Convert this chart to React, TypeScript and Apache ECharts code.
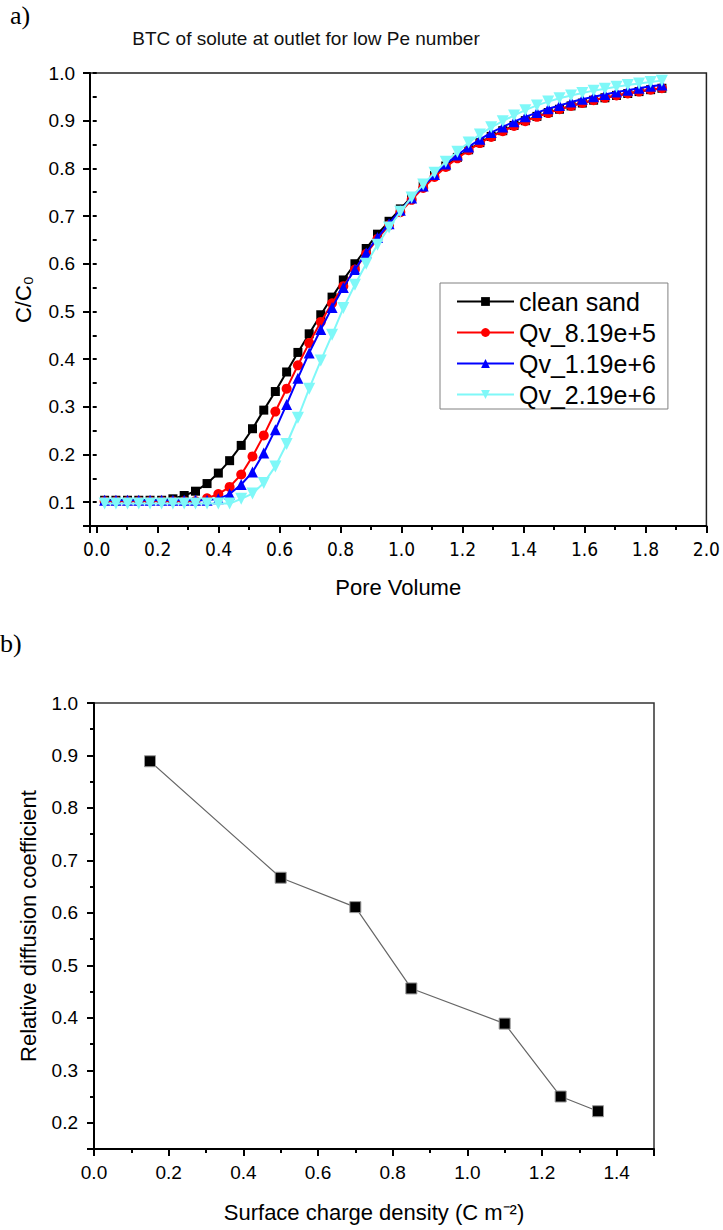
import React, { useEffect, useRef } from "react";
import * as echarts from "echarts";

// ---- Data: panel a (breakthrough curves) ----
const poreVolume = [
  0.026, 0.063, 0.101, 0.138, 0.175, 0.213, 0.25, 0.287, 0.324, 0.362,
  0.399, 0.436, 0.474, 0.511, 0.548, 0.586, 0.623, 0.66, 0.697, 0.735,
  0.772, 0.809, 0.847, 0.884, 0.921, 0.959, 0.996, 1.033, 1.071, 1.108,
  1.145, 1.183, 1.22, 1.257, 1.294, 1.332, 1.369, 1.406, 1.444, 1.481,
  1.518, 1.556, 1.593, 1.63, 1.667, 1.705, 1.742, 1.779, 1.817, 1.854,
];
const cleanSand = [
  0.104, 0.104, 0.104, 0.104, 0.104, 0.104, 0.107, 0.114, 0.123, 0.139,
  0.161, 0.187, 0.219, 0.254, 0.293, 0.332, 0.373, 0.414, 0.453, 0.493,
  0.53, 0.566, 0.6, 0.632, 0.662, 0.689, 0.715, 0.74, 0.763, 0.785,
  0.805, 0.823, 0.839, 0.854, 0.867, 0.879, 0.89, 0.9, 0.909, 0.917,
  0.924, 0.931, 0.937, 0.943, 0.948, 0.953, 0.957, 0.961, 0.965, 0.968,
];
const qv819e5 = [
  0.102, 0.102, 0.102, 0.102, 0.102, 0.102, 0.102, 0.102, 0.102, 0.108,
  0.117, 0.132, 0.158, 0.196, 0.24, 0.29, 0.338, 0.387, 0.434, 0.478,
  0.517, 0.553, 0.588, 0.621, 0.652, 0.681, 0.708, 0.734, 0.759, 0.782,
  0.803, 0.821, 0.838, 0.853, 0.866, 0.878, 0.889, 0.899, 0.908, 0.916,
  0.924, 0.931, 0.937, 0.943, 0.948, 0.953, 0.957, 0.961, 0.965, 0.968,
];
const qv119e6 = [
  0.104, 0.104, 0.104, 0.104, 0.104, 0.104, 0.104, 0.104, 0.104, 0.104,
  0.107, 0.117, 0.137, 0.163, 0.203, 0.252, 0.305, 0.36, 0.413, 0.462,
  0.508, 0.55, 0.588, 0.623, 0.655, 0.684, 0.712, 0.738, 0.763, 0.787,
  0.809, 0.828, 0.845, 0.861, 0.875, 0.887, 0.898, 0.908, 0.917, 0.925,
  0.932, 0.939, 0.945, 0.95, 0.955, 0.96, 0.964, 0.968, 0.972, 0.975,
];
const qv219e6 = [
  0.097, 0.097, 0.097, 0.097, 0.097, 0.097, 0.097, 0.097, 0.097, 0.097,
  0.097, 0.097, 0.107, 0.118, 0.14, 0.175, 0.222, 0.277, 0.338, 0.397,
  0.451, 0.507, 0.556, 0.6, 0.64, 0.676, 0.709, 0.739, 0.766, 0.791,
  0.814, 0.835, 0.854, 0.871, 0.886, 0.899, 0.911, 0.922, 0.932, 0.94,
  0.947, 0.953, 0.958, 0.963, 0.967, 0.971, 0.975, 0.978, 0.981, 0.984,
];
const seriesNames = ["clean sand", "Qv_8.19e+5", "Qv_1.19e+6", "Qv_2.19e+6"];

// ---- Data: panel b ----
const chargeDensity = [0.15, 0.5, 0.7, 0.85, 1.1, 1.25, 1.35];
const relDiffusion = [0.889, 0.667, 0.611, 0.456, 0.389, 0.25, 0.222];

const SANS = '"Liberation Sans", Arial, Helvetica, sans-serif';
const SERIF = '"Liberation Serif", "Times New Roman", serif';

function pairs(xs: number[], ys: number[]) {
  return xs.map((x, i) => [x, ys[i]]);
}

const isMult = (v: number, step: number) =>
  Math.abs(v / step - Math.round(v / step)) < 1e-6;

export default function App() {
  const ref = useRef<HTMLDivElement>(null);

  useEffect(() => {
    if (!ref.current) return;
    const chart = echarts.init(ref.current, undefined, { renderer: "svg" });

    const majorTick = { show: true, inside: false, length: 7, lineStyle: { color: "#000", width: 2 } };
    const minorTick = { show: true, inside: false, length: 4, lineStyle: { color: "#000", width: 2 } };
    const axisLine = { show: true, onZero: false, lineStyle: { color: "#000", width: 2 } };
    const hiddenLabel = { show: false };
    const noSplit = { show: false };

    const option: any = {
      animation: false,
      backgroundColor: "#fff",
      title: [
        {
          text: "BTC of solute at outlet for low Pe number",
          left: 306,
          top: 29,
          padding: 0,
          textAlign: "center",
          textStyle: { fontFamily: SANS, fontSize: 19, fontWeight: "normal", color: "#111" },
        },
      ],
      graphic: [
        { type: "text", x: 10, y: 2, style: { text: "a)", font: `26px ${SERIF}`, fill: "#000" } },
        { type: "text", x: 0, y: 630, style: { text: "b)", font: `26px ${SERIF}`, fill: "#000" } },
      ],
      grid: [
        { left: 90, top: 73, right: 16, bottom: 704, show: true, borderColor: "#222", borderWidth: 1.5, backgroundColor: "transparent" },
        { left: 94, top: 703, right: 69, bottom: 81, show: true, borderColor: "#333", borderWidth: 1.5, backgroundColor: "transparent" },
      ],
      xAxis: [
        {
          gridIndex: 0, type: "value", position: "bottom", min: -0.022, max: 2.0, splitNumber: 10,
          axisLine, axisTick: majorTick, splitLine: noSplit,
          axisLabel: {
            margin: 13, fontSize: 19, color: "#000", fontFamily: '"DejaVu Sans Condensed", "DejaVu Sans", sans-serif',
            formatter: (v: number) => (v < -0.001 ? "" : v.toFixed(1)),
          },
          name: "Pore Volume", nameLocation: "middle", nameGap: 50,
          nameTextStyle: { fontSize: 22, fontFamily: SANS, color: "#000" },
        },
        {
          gridIndex: 0, type: "value", position: "bottom", min: -0.022, max: 2.0, splitNumber: 20,
          axisLine: { show: false }, axisTick: minorTick, axisLabel: hiddenLabel, splitLine: noSplit,
        },
        {
          gridIndex: 1, type: "value", position: "bottom", min: 0, max: 1.5, interval: 0.2,
          axisLine, axisTick: majorTick, splitLine: noSplit,
          axisLabel: {
            margin: 14, fontSize: 19, color: "#000", fontFamily: SANS,
            formatter: (v: number) => (v > 1.45 ? "" : v.toFixed(1)),
          },
          name: "Surface charge density (C m\u207B\u00B2)", nameLocation: "middle", nameGap: 52,
          nameTextStyle: { fontSize: 22, fontFamily: SANS, color: "#000" },
        },
        {
          gridIndex: 1, type: "value", position: "bottom", min: 0, max: 1.5, interval: 0.1,
          axisLine: { show: false }, axisTick: minorTick, axisLabel: hiddenLabel, splitLine: noSplit,
        },
      ],
      yAxis: [
        {
          gridIndex: 0, type: "value", position: "left", min: 0.05, max: 1.0, splitNumber: 9,
          axisLine, axisTick: majorTick, splitLine: noSplit,
          axisLabel: {
            margin: 15, fontSize: 19, color: "#000", fontFamily: SANS,
            formatter: (v: number) => (v < 0.07 || !isMult(v, 0.1) ? "" : v.toFixed(1)),
          },
          name: "C/C\u2080", nameLocation: "middle", nameGap: 56, nameRotate: 90,
          nameTextStyle: { fontSize: 22, fontFamily: SANS, color: "#000" },
        },
        {
          gridIndex: 0, type: "value", position: "left", min: 0.05, max: 1.0, interval: 0.05,
          axisLine: { show: false }, axisTick: minorTick, axisLabel: hiddenLabel, splitLine: noSplit,
        },
        {
          gridIndex: 1, type: "value", position: "left", min: 0.15, max: 1.0, splitNumber: 9,
          axisLine, axisTick: majorTick, splitLine: noSplit,
          axisLabel: {
            margin: 16, fontSize: 19, color: "#000", fontFamily: SANS,
            formatter: (v: number) => (v < 0.17 || !isMult(v, 0.1) ? "" : v.toFixed(1)),
          },
          name: "Relative diffusion coefficient", nameLocation: "middle", nameGap: 55, nameRotate: 90,
          nameTextStyle: { fontSize: 22, fontFamily: SANS, color: "#000" },
        },
        {
          gridIndex: 1, type: "value", position: "left", min: 0.15, max: 1.0, interval: 0.05,
          axisLine: { show: false }, axisTick: minorTick, axisLabel: hiddenLabel, splitLine: noSplit,
        },
      ],
      legend: {
        orient: "vertical",
        left: 440,
        top: 283,
        itemWidth: 57,
        itemHeight: 11,
        itemGap: 6,
        padding: [6, 12, 2, 16],
        borderColor: "#808080",
        borderWidth: 1,
        backgroundColor: "#fff",
        selectedMode: false,
        data: seriesNames,
        textStyle: { fontSize: 25, color: "#000", fontFamily: SANS },
      },
      series: [
        {
          name: seriesNames[0], type: "line", xAxisIndex: 0, yAxisIndex: 0,
          data: pairs(poreVolume, cleanSand), symbol: "rect", symbolSize: 9,
          lineStyle: { color: "#000", width: 2 }, itemStyle: { color: "#000" }, z: 2,
        },
        {
          name: seriesNames[1], type: "line", xAxisIndex: 0, yAxisIndex: 0,
          data: pairs(poreVolume, qv819e5), symbol: "circle", symbolSize: 10,
          lineStyle: { color: "#ff0000", width: 2 }, itemStyle: { color: "#ff0000" }, z: 3,
        },
        {
          name: seriesNames[2], type: "line", xAxisIndex: 0, yAxisIndex: 0,
          data: pairs(poreVolume, qv119e6), symbol: "triangle", symbolSize: 11,
          lineStyle: { color: "#0000ff", width: 2 }, itemStyle: { color: "#0000ff" }, z: 4,
        },
        {
          name: seriesNames[3], type: "line", xAxisIndex: 0, yAxisIndex: 0,
          data: pairs(poreVolume, qv219e6), symbol: "triangle", symbolRotate: 180, symbolSize: 12,
          lineStyle: { color: "#7ff8f8", width: 2 }, itemStyle: { color: "#7ff8f8" }, z: 5,
        },
        {
          type: "line", xAxisIndex: 2, yAxisIndex: 2,
          data: pairs(chargeDensity, relDiffusion), symbol: "rect", symbolSize: 11,
          lineStyle: { color: "#666", width: 1.2 },
          itemStyle: { color: "#000", borderColor: "#999", borderWidth: 1 },
        },
      ],
    };

    chart.setOption(option);
    return () => chart.dispose();
  }, []);

  return (
    <div
      ref={ref}
      style={{ position: "absolute", left: 0, top: 0, width: 723, height: 1230, background: "#fff" }}
    />
  );
}
